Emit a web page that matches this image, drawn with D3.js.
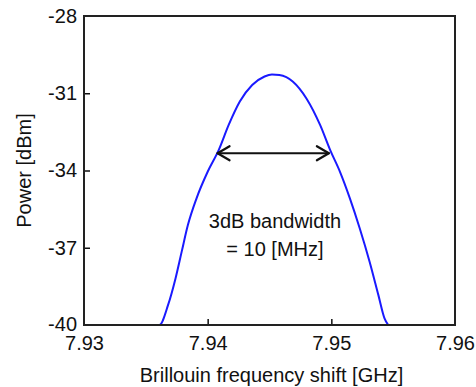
<!DOCTYPE html>
<html>
<head>
<meta charset="utf-8">
<script src="https://cdn.jsdelivr.net/npm/d3@7"></script>
<style>
  html, body { margin: 0; padding: 0; background: #fff; }
  svg text { font-family: "Liberation Sans", Arial, sans-serif; fill: #111; }
</style>
</head>
<body>
<div id="chart"></div>
<script>
// spectrum (GHz, dBm)
const freq = [7.9350, 7.9361, 7.9368, 7.9374, 7.9379, 7.9384, 7.9391, 7.9400, 7.9409, 7.9417,
  7.9426, 7.9436, 7.9446, 7.9452, 7.9458, 7.9469, 7.9480, 7.9491, 7.9499, 7.9507,
  7.9515, 7.9523, 7.9531, 7.9538, 7.9543, 7.9546];
const power = [-40.0, -40.0, -39.22, -38.19, -37.15, -36.12, -35.08, -34.05, -33.20, -32.23,
  -31.32, -30.68, -30.35, -30.27, -30.29, -30.55, -31.21, -32.24, -33.20, -34.05,
  -35.08, -36.25, -37.55, -38.83, -39.74, -40.0];

const xTicks = [7.93, 7.94, 7.95, 7.96];
const yTicks = [-28, -31, -34, -37, -40];

// 3 dB bandwidth marker
const arrowFrom = 7.9408, arrowTo = 7.9498, arrowLevel = -33.33;
const noteLines = ["3dB bandwidth", "= 10 [MHz]"];

const W = 476, H = 387;
const m = { top: 16, right: 21, bottom: 62, left: 84 };

const svg = d3.select('#chart').append('svg')
  .attr('width', W).attr('height', H);

const x = d3.scaleLinear().domain([7.93, 7.96]).range([m.left, W - m.right]);
const y = d3.scaleLinear().domain([-40, -28]).range([H - m.bottom, m.top]);

// axes, ticks inward, plain hyphen minus
const xAxis = svg.append('g')
  .attr('transform', `translate(0,${H - m.bottom})`)
  .call(d3.axisBottom(x).tickValues(xTicks).tickSizeInner(-6).tickSizeOuter(0)
    .tickFormat(d => d.toFixed(2)));
xAxis.selectAll('text').attr('dy', '1.05em').attr('y', 4);

const yAxis = svg.append('g')
  .attr('transform', `translate(${m.left},0)`)
  .call(d3.axisLeft(y).tickValues(yTicks).tickSizeInner(-6).tickSizeOuter(0)
    .tickFormat(d => String(d)));
yAxis.selectAll('text').attr('x', -7);
yAxis.selectAll('.tick').filter(d => d === -40).select('text').attr('y', -1);

svg.selectAll('.domain').remove();
svg.selectAll('.tick line').attr('stroke', '#111').attr('stroke-width', 1.5);
svg.selectAll('.tick text').style('font-size', '20px').attr('fill', '#111');

// edge ticks sit on the frame
xAxis.selectAll('.tick').filter(d => d === 7.93 || d === 7.96).select('line').remove();
yAxis.selectAll('.tick').filter(d => d === -28 || d === -40).select('line').remove();

// spectrum
const pts = freq.map((f, i) => [f, power[i]]);
svg.append('path')
  .datum(pts)
  .attr('fill', 'none')
  .attr('stroke', '#1a1aff')
  .attr('stroke-width', 2)
  .attr('d', d3.line().x(d => x(d[0])).y(d => y(d[1])).curve(d3.curveMonotoneX));

// frame
svg.append('rect')
  .attr('x', m.left).attr('y', m.top)
  .attr('width', W - m.left - m.right).attr('height', H - m.top - m.bottom)
  .attr('fill', 'none').attr('stroke', '#222').attr('stroke-width', 2);

// double arrow
const ax1 = x(arrowFrom), ax2 = x(arrowTo), ay = y(arrowLevel);
const g = svg.append('g').attr('stroke', '#111').attr('stroke-width', 2.2)
  .attr('fill', 'none').attr('stroke-linecap', 'round').attr('stroke-linejoin', 'round');
g.append('line').attr('x1', ax1).attr('x2', ax2).attr('y1', ay).attr('y2', ay);
g.append('path').attr('d', `M${ax1 + 12},${ay - 7}L${ax1},${ay}L${ax1 + 12},${ay + 7}`);
g.append('path').attr('d', `M${ax2 - 12},${ay - 7}L${ax2},${ay}L${ax2 - 12},${ay + 7}`);

// annotation
const noteX = x(7.94544);
svg.append('text').attr('x', noteX).attr('y', y(-36.23))
  .attr('text-anchor', 'middle').style('font-size', '20px').text(noteLines[0]);
svg.append('text').attr('x', noteX).attr('y', y(-37.32))
  .attr('text-anchor', 'middle').style('font-size', '20px').text(noteLines[1]);

// axis titles
svg.append('text')
  .attr('x', (m.left + W - m.right) / 2 + 2).attr('y', 382)
  .attr('text-anchor', 'middle').style('font-size', '20px')
  .text('Brillouin frequency shift [GHz]');

svg.append('text')
  .attr('transform', `translate(31,${(m.top + H - m.bottom) / 2}) rotate(-90)`)
  .attr('text-anchor', 'middle').style('font-size', '20px')
  .text('Power [dBm]');
</script>
</body>
</html>
